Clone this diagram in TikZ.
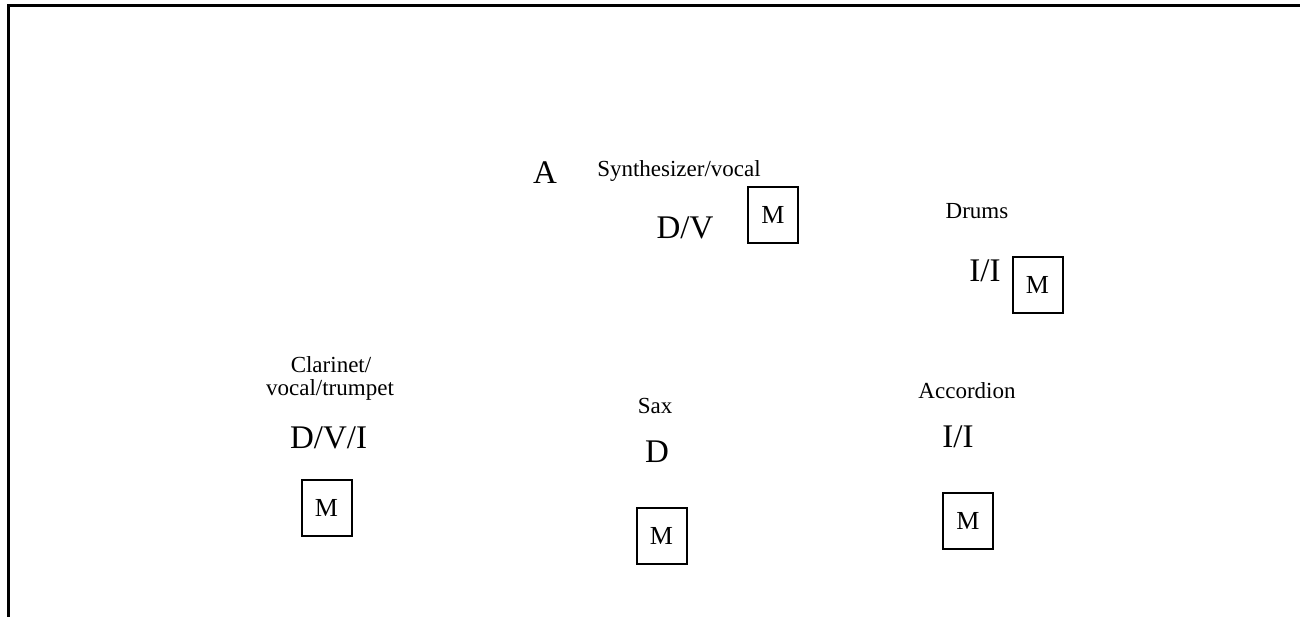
\documentclass[tikz,border=0pt]{standalone}
\usepackage{fontspec}
\setmainfont{Liberation Serif}
\usepackage{tikz}

\begin{document}
\begin{tikzpicture}[x=0.5pt,y=-0.5pt,
    small/.style={font=\fontsize{11.5}{13}\selectfont,inner sep=0pt,anchor=base},
    big/.style={font=\fontsize{16.5}{18}\selectfont,inner sep=0pt,anchor=base},
    mic/.style={draw,line width=1pt,minimum width=25pt,minimum height=28pt,
                inner sep=0pt,font=\fontsize{13}{15}\selectfont}]
  \useasboundingbox (0,0) rectangle (1300,616);
  \draw[line width=1.3pt] (8.5,5.5) rectangle (1320,640);
  % stage corner
  \node[big] (stage) at (545,183) {A};
  % synthesizer
  \node[small] (synlabel) at (679,176) {Synthesizer/vocal};
  \node[big] (synrole) at (685,238) {D/V};
  \node[mic] (synmic) at (773,214.5) {M};
  % drums
  \node[small] (drumlabel) at (977,218) {Drums};
  \node[big] (drumrole) at (985,281) {I/I};
  \node[mic] (drummic) at (1037.5,284.5) {M};
  % clarinet
  \node[small] (clarlabel) at (331,372) {Clarinet/};
  \node[small] (clarlabelb) at (330,395) {vocal/trumpet};
  \node[big] (clarrole) at (328.5,448) {D/V/I};
  \node[mic] (clarmic) at (326.5,507.5) {M};
  % sax
  \node[small] (saxlabel) at (655,413) {Sax};
  \node[big] (saxrole) at (657,462) {D};
  \node[mic] (saxmic) at (661.5,535.5) {M};
  % accordion
  \node[small] (acclabel) at (967,398) {Accordion};
  \node[big] (accrole) at (958,447) {I/I};
  \node[mic] (accmic) at (968,521) {M};
\end{tikzpicture}
\end{document}
